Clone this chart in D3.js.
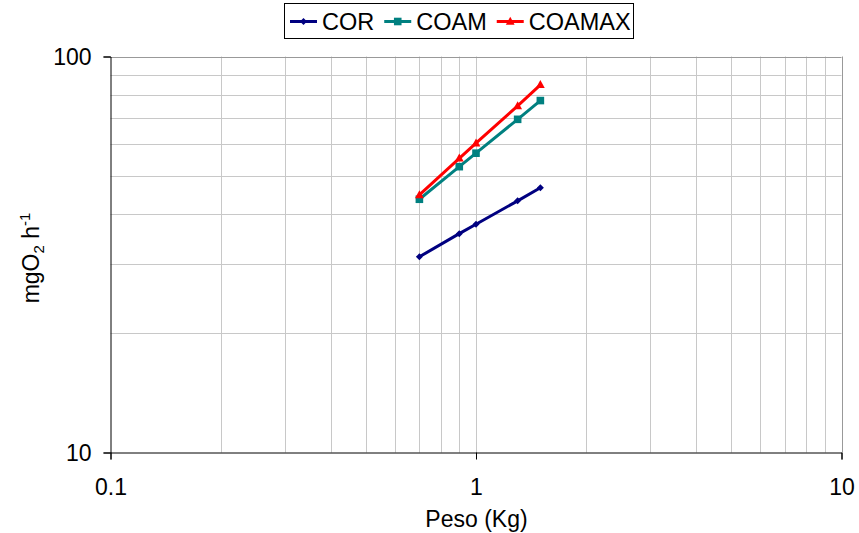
<!DOCTYPE html>
<html>
<head>
<meta charset="utf-8">
<script src="https://cdn.jsdelivr.net/npm/d3@7/dist/d3.min.js"></script>
<style>
  html, body { margin: 0; padding: 0; background: #fff; }
  svg { display: block; font-family: "Liberation Sans", Arial, sans-serif; }
</style>
</head>
<body>
<svg id="chart" width="859" height="533"></svg>
<script>
// Body weight (kg) and oxygen consumption (mg O2 per hour)
const weights = [0.7, 0.9, 1.0, 1.3, 1.5];
const cor     = [31.2, 35.7, 37.7, 43.2, 46.6];
const coam    = [43.6, 52.7, 57.0, 69.4, 77.4];
const coamax  = [44.7, 55.3, 60.4, 75.0, 84.8];

const seriesNames = ["COR", "COAM", "COAMAX"];
const xTickLabels = [0.1, 1, 10];
const yTickLabels = [10, 100];

const series = [
  { name: seriesNames[0], values: cor,    color: "#000080", marker: "diamond" },
  { name: seriesNames[1], values: coam,   color: "#008080", marker: "square" },
  { name: seriesNames[2], values: coamax, color: "#ff0000", marker: "triangle" }
];

const svg = d3.select("#chart");
const plot = { left: 110.5, right: 841.5, top: 56.5, bottom: 452.5 };

const x = d3.scaleLog().domain([0.1, 10]).range([plot.left, plot.right]);
const y = d3.scaleLog().domain([10, 100]).range([plot.bottom, plot.top]);

// gridlines at every minor and major step
const grid = svg.append("g");
grid.selectAll("line.vx")
  .data(x.ticks().filter(v => v > 0.1 + 1e-9))
  .join("line")
  .attr("x1", d => Math.round(x(d)) + 0.5).attr("x2", d => Math.round(x(d)) + 0.5)
  .attr("y1", plot.top).attr("y2", plot.bottom)
  .attr("stroke", d => Math.abs(d - 10) < 1e-9 ? "#999" : "#c8c8c8")
  .attr("stroke-width", 1);
grid.selectAll("line.hy")
  .data(y.ticks().filter(v => v > 10 + 1e-9))
  .join("line")
  .attr("y1", d => Math.round(y(d)) + 0.5).attr("y2", d => Math.round(y(d)) + 0.5)
  .attr("x1", plot.left).attr("x2", plot.right)
  .attr("stroke", d => Math.abs(d - 100) < 1e-9 ? "#999" : "#c8c8c8")
  .attr("stroke-width", 1);

// axes
const fmt = d => String(d);
const xAxis = d3.axisBottom(x).tickValues(xTickLabels).tickFormat(fmt).tickSize(7).tickPadding(19);
const yAxis = d3.axisLeft(y).tickValues(yTickLabels).tickFormat(fmt).tickSize(7).tickPadding(12);

const gx = svg.append("g").attr("transform", `translate(0,${plot.bottom})`).call(xAxis);
const gy = svg.append("g").attr("transform", `translate(${plot.left},0)`).call(yAxis);
[gx, gy].forEach(g => {
  g.select(".domain").attr("stroke", "#000").attr("stroke-width", 1);
  g.selectAll(".tick line").attr("stroke", "#000");
  g.selectAll(".tick text").attr("fill", "#000").attr("font-size", 23)
    .attr("font-family", "'Liberation Sans', Arial, sans-serif");
});
gy.selectAll(".tick text").attr("dy", "0.36em");

// axis titles
svg.append("text")
  .attr("x", (plot.left + plot.right) / 2 + 0.5)
  .attr("y", 527)
  .attr("text-anchor", "middle")
  .attr("font-size", 23)
  .text("Peso (Kg)");

const yTitle = svg.append("text")
  .attr("transform", `translate(38.5,258) rotate(-90)`)
  .attr("text-anchor", "middle")
  .attr("font-size", 23);
yTitle.append("tspan").text("mgO");
yTitle.append("tspan").attr("font-size", 15).attr("dy", 5).text("2");
yTitle.append("tspan").attr("dy", -5).text(" h");
yTitle.append("tspan").attr("font-size", 15).attr("dy", -9).text("-1");

// marker shapes
const markerPath = (type, s) => {
  if (type === "diamond") return `M0,${-s}L${s},0L0,${s}L${-s},0Z`;
  if (type === "square") return `M${-s},${-s}H${s}V${s}H${-s}Z`;
  return `M0,${-s * 1.2}L${s * 1.1},${s * 0.8}L${-s * 1.1},${s * 0.8}Z`;
};
const markerSize = { diamond: 3.5, square: 3.8, triangle: 4 };

const line = d3.line().x(d => x(d[0])).y(d => y(d[1]));

series.forEach(s => {
  const pts = weights.map((w, i) => [w, s.values[i]]);
  const g = svg.append("g");
  g.append("path").datum(pts)
    .attr("d", line)
    .attr("fill", "none")
    .attr("stroke", s.color)
    .attr("stroke-width", 3);
  g.selectAll("path.m").data(pts).join("path")
    .attr("transform", d => `translate(${x(d[0])},${y(d[1])})`)
    .attr("d", markerPath(s.marker, markerSize[s.marker]))
    .attr("fill", s.color);
});

// legend
const legend = svg.append("g");
legend.append("rect")
  .attr("x", 284.5).attr("y", 3.5).attr("width", 349).attr("height", 35)
  .attr("fill", "#fff").attr("stroke", "#000").attr("stroke-width", 1);
let lx = 290;
series.forEach(s => {
  const item = legend.append("g");
  item.append("line")
    .attr("x1", lx).attr("x2", lx + 27).attr("y1", 21.5).attr("y2", 21.5)
    .attr("stroke", s.color).attr("stroke-width", 3);
  item.append("path")
    .attr("transform", `translate(${lx + 13.5},21.5)`)
    .attr("d", markerPath(s.marker, markerSize[s.marker]))
    .attr("fill", s.color);
  const t = item.append("text")
    .attr("x", lx + 32).attr("y", 30)
    .attr("font-size", 23.5)
    .text(s.name);
  lx += 32 + t.node().getComputedTextLength() + 10;
});
</script>
</body>
</html>
